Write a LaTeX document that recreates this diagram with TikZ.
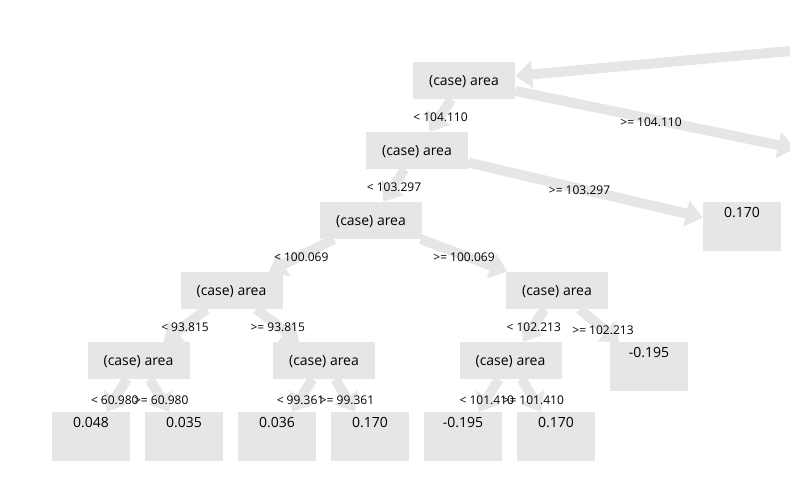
\documentclass[tikz,border=0pt]{standalone}
\usepackage{fontspec}
\setmainfont{Open Sans}
\usetikzlibrary{arrows.meta,calc}
\pgfdeclarelayer{edges}
\pgfsetlayers{edges,main}
\definecolor{boxgray}{HTML}{E6E6E6}
\begin{document}
\begin{tikzpicture}[x=1pt,y=-1pt,
  splitbox/.style={fill=boxgray, minimum width=102pt, minimum height=37pt, inner sep=0pt, text height=13.5pt, text depth=3.4pt, font=\fontsize{14}{16}\selectfont},
  leafbox/.style={fill=boxgray, minimum width=78pt, inner sep=0pt, text height=15pt, text depth=34pt, anchor=north, font=\fontsize{14}{16}\selectfont},
  link/.style={draw=boxgray, line width=10pt, -{Triangle[length=17pt,width=26pt]}},
  lbl/.style={inner sep=0pt, yshift=-2pt, font=\fontsize{12}{14}\selectfont}]
\useasboundingbox (0,0) rectangle (790,487);
\clip (0,0) rectangle (790,487);
% split nodes
\node[splitbox] (n1) at (464,80.5) {(case) area};
\node[splitbox] (n2) at (417,150.5) {(case) area};
\node[splitbox] (n3) at (371,220.5) {(case) area};
\node[splitbox] (n4) at (231.5,290.5) {(case) area};
\node[splitbox] (n5) at (557,290.5) {(case) area};
\node[splitbox] (n6) at (138.5,360.5) {(case) area};
\node[splitbox] (n7) at (324,360.5) {(case) area};
\node[splitbox] (n8) at (510.5,360.5) {(case) area};
% leaves
\node[leafbox] (l1) at (742,202) {0.170};
\node[leafbox] (l2) at (649,342) {-0.195};
\node[leafbox] (l3) at (91,412) {0.048};
\node[leafbox] (l4) at (184,412) {0.035};
\node[leafbox] (l5) at (277,412) {0.036};
\node[leafbox] (l6) at (370,412) {0.170};
\node[leafbox] (l7) at (463,412) {-0.195};
\node[leafbox] (l8) at (556,412) {0.170};
% off-picture ends
\coordinate (p0) at (1100,23);
\coordinate (r1) at (795,148.5);
\begin{pgfonlayer}{edges}
\draw[link] (p0) -- (n1);
\draw[link] (n1) -- (r1);
\draw[link] (n1) -- (n2);
\draw[link] (n2) -- (l1);
\draw[link] (n2) -- (n3);
\draw[link] (n3) -- (n4);
\draw[link] (n3) -- (n5);
\draw[link] (n4) -- (n6);
\draw[link] (n4) -- (n7);
\draw[link] (n5) -- (n8);
\draw[link] (n5) -- (l2);
\draw[link] (n6) -- (l3);
\draw[link] (n6) -- (l4);
\draw[link] (n7) -- (l5);
\draw[link] (n7) -- (l6);
\draw[link] (n8) -- (l7);
\draw[link] (n8) -- (l8);
\end{pgfonlayer}
% labels
\node[lbl] at ($(n1)!.5!(n2)$) {< 104.110};
\node[lbl] at (651,120) {>= 104.110};
\node[lbl] at ($(n2)!.5!(n3)$) {< 103.297};
\node[lbl] at ($(n2)!.5!(l1)$) {>= 103.297};
\node[lbl] at ($(n3)!.5!(n4)$) {< 100.069};
\node[lbl] at ($(n3)!.5!(n5)$) {>= 100.069};
\node[lbl] at ($(n4)!.5!(n6)$) {< 93.815};
\node[lbl] at ($(n4)!.5!(n7)$) {>= 93.815};
\node[lbl] at ($(n5)!.5!(n8)$) {< 102.213};
\node[lbl] at ($(n5)!.5!(l2)$) {>= 102.213};
\node[lbl] at ($(n6)!.5!(l3)$) {< 60.980};
\node[lbl] at ($(n6)!.5!(l4)$) {>= 60.980};
\node[lbl] at ($(n7)!.5!(l5)$) {< 99.361};
\node[lbl] at ($(n7)!.5!(l6)$) {>= 99.361};
\node[lbl] at ($(n8)!.5!(l7)$) {< 101.410};
\node[lbl] at ($(n8)!.5!(l8)$) {>= 101.410};
\end{tikzpicture}
\end{document}
